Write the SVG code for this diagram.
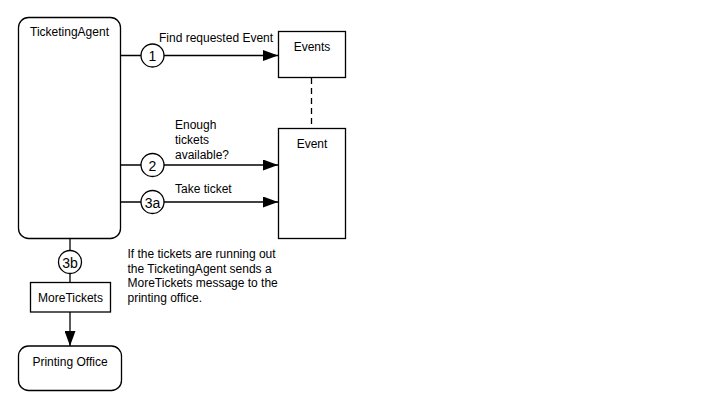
<svg xmlns="http://www.w3.org/2000/svg" width="708" height="408" viewBox="0 0 708 408">
<style>
text{font-family:"Liberation Sans",Arial,sans-serif;font-size:12px;fill:#000}
.box{fill:#fff;stroke:#000;stroke-width:1.3}
.ln{fill:none;stroke:#000;stroke-width:1.3}
.c{text-anchor:middle}
.num{font-size:14px;text-anchor:middle}
</style>
<defs>
<marker id="ah" markerWidth="15" markerHeight="11" refX="15" refY="5.5" orient="auto" markerUnits="userSpaceOnUse">
<path d="M0,0 L15,5.5 L0,11 Z" fill="#000"/>
</marker>
</defs>
<rect width="708" height="408" fill="#fff"/>
<g id="connectors">
<line class="ln" x1="121" y1="55.5" x2="278" y2="55.5" marker-end="url(#ah)"/>
<line class="ln" x1="121" y1="165" x2="278" y2="165" marker-end="url(#ah)"/>
<line class="ln" x1="121" y1="202" x2="278" y2="202" marker-end="url(#ah)"/>
<line class="ln" x1="311.5" y1="78" x2="311.5" y2="128" stroke-dasharray="6,4"/>
<line class="ln" x1="70" y1="239" x2="70" y2="282"/>
<line class="ln" x1="70" y1="312" x2="70" y2="346" marker-end="url(#ah)"/>
<circle class="box" cx="152.5" cy="55.5" r="11.5"/>
<text class="num" x="152.5" y="61">1</text>
<circle class="box" cx="152.5" cy="165" r="11.5"/>
<text class="num" x="152.5" y="170.5">2</text>
<circle class="box" cx="152.5" cy="202" r="11.5"/>
<text class="num" x="152.5" y="207.5">3a</text>
<circle class="box" cx="70" cy="262" r="11.5"/>
<text class="num" x="70" y="267.5">3b</text>
<text x="159" y="42">Find requested Event</text>
<text x="175" y="129">Enough</text>
<text x="175" y="144">tickets</text>
<text x="175" y="159">available?</text>
<text x="175" y="193">Take ticket</text>
</g>
<g id="TicketingAgent">
<rect class="box" x="18.5" y="17.5" width="102" height="221" rx="10"/>
<text class="c" x="69.5" y="36">TicketingAgent</text>
</g>
<g id="Events">
<rect class="box" x="278.5" y="31.5" width="67" height="46"/>
<text class="c" x="312" y="51">Events</text>
</g>
<g id="Event">
<rect class="box" x="278.5" y="128.5" width="67" height="110"/>
<text class="c" x="312" y="148">Event</text>
</g>
<g id="MoreTickets">
<rect class="box" x="30.5" y="282.5" width="80" height="29.5"/>
<text class="c" x="70.5" y="302">MoreTickets</text>
</g>
<g id="PrintingOffice">
<rect class="box" x="18.5" y="346" width="103" height="44.5" rx="10"/>
<text class="c" x="70" y="366">Printing Office</text>
</g>
<g id="note">
<text x="127.5" y="258">If the tickets are running out</text>
<text x="127.5" y="272.5">the TicketingAgent sends a</text>
<text x="127.5" y="287">MoreTickets message to the</text>
<text x="127.5" y="301.5">printing office.</text>
</g>
</svg>
